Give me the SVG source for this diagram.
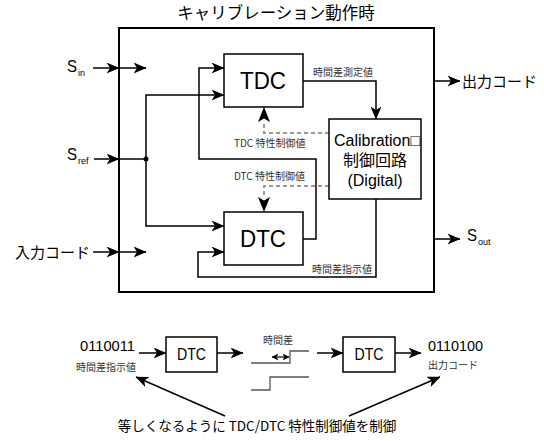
<svg xmlns="http://www.w3.org/2000/svg" width="544" height="441" viewBox="0 0 544 441">
<defs>
<marker id="arr" markerUnits="userSpaceOnUse" markerWidth="13" markerHeight="11" viewBox="0 0 13 11" refX="12.5" refY="5.5" orient="auto">
<path d="M0,0 L13,5.5 L0,11 L3.5,5.5 Z" fill="#000"/>
</marker>
<marker id="arrs" markerUnits="userSpaceOnUse" markerWidth="7" markerHeight="7" viewBox="0 0 7 7" refX="6.5" refY="3.5" orient="auto-start-reverse">
<path d="M0,0 L7,3.5 L0,7 L2,3.5 Z" fill="#000"/>
</marker>
</defs>
<style>
.box{fill:#fff;stroke:#000;stroke-width:1.5}
.ln{fill:none;stroke:#000;stroke-width:1.5}
.dash{fill:none;stroke:#999;stroke-width:2;stroke-dasharray:4 3}
.wave{fill:none;stroke:#555;stroke-width:1.3}
.jp{font-family:"Noto Sans CJK JP","Noto Sans",sans-serif;fill:#000}
.sm{font-family:"Noto Sans CJK JP","Noto Sans",sans-serif;font-size:10px;fill:#333}
.big{font-family:"Liberation Sans",Arial,sans-serif;fill:#000}
</style>
<rect width="544" height="441" fill="#fff"/>

<g id="frame">
<rect x="119" y="28" width="315" height="264" fill="none" stroke="#000" stroke-width="2"/>
<text class="jp" x="276" y="19" font-size="16.5" text-anchor="middle">キャリブレーション動作時</text>
</g>

<g id="connectors">
<line class="ln" x1="93" y1="68" x2="119" y2="68" marker-end="url(#arr)"/>
<line class="ln" x1="119" y1="68" x2="146" y2="68" marker-end="url(#arr)"/>
<line class="ln" x1="94" y1="159" x2="119" y2="159" marker-end="url(#arr)"/>
<line class="ln" x1="119" y1="159" x2="146" y2="159"/>
<line class="ln" x1="93" y1="252" x2="119" y2="252" marker-end="url(#arr)"/>
<line class="ln" x1="119" y1="252" x2="146" y2="252" marker-end="url(#arr)"/>
<polyline class="ln" points="146,159 146,95 224,95" marker-end="url(#arr)"/>
<polyline class="ln" points="146,159 146,226 224,226" marker-end="url(#arr)"/>
<circle cx="146" cy="159" r="2.5" fill="#000"/>
<polyline class="ln" points="303,239 316,239 316,159 199,159 199,68 224,68" marker-end="url(#arr)"/>
<polyline class="ln" points="303,81 376,81 376,119" marker-end="url(#arr)"/>
<polyline class="ln" points="376,199 376,277 198,277 198,252 224,252" marker-end="url(#arr)"/>
<polyline class="dash" points="329,133 264,133 264,124"/>
<path d="M264,107 L270,122 L264,118.5 L258,122 Z" fill="#000"/>
<polyline class="dash" points="329,186 264,186 264,195"/>
<path d="M264,212 L270,197 L264,200.5 L258,197 Z" fill="#000"/>
<line class="ln" x1="434" y1="81" x2="460" y2="81" marker-end="url(#arr)"/>
<line class="ln" x1="434" y1="239" x2="460" y2="239" marker-end="url(#arr)"/>
<line class="ln" x1="139" y1="353" x2="166" y2="353" marker-end="url(#arr)"/>
<line class="ln" x1="217" y1="353" x2="243" y2="353" marker-end="url(#arr)"/>
<line class="ln" x1="317" y1="353" x2="343" y2="353" marker-end="url(#arr)"/>
<line class="ln" x1="395" y1="353" x2="421" y2="353" marker-end="url(#arr)"/>
<line class="ln" x1="225" y1="416" x2="136" y2="377" marker-end="url(#arr)"/>
<line class="ln" x1="349" y1="416" x2="440" y2="377" marker-end="url(#arr)"/>
</g>

<g id="sin">
<text class="big" x="67" y="72" font-size="17" textLength="10" lengthAdjust="spacingAndGlyphs">S</text>
<text class="big" x="78" y="76" font-size="9">in</text>
</g>
<g id="sref">
<text class="big" x="67" y="160" font-size="17" textLength="10" lengthAdjust="spacingAndGlyphs">S</text>
<text class="big" x="78" y="164" font-size="9">ref</text>
</g>
<g id="input-code">
<text class="jp" x="15" y="258" font-size="15">入力コード</text>
</g>
<g id="output-code">
<text class="jp" x="462" y="87" font-size="15">出力コード</text>
</g>
<g id="sout">
<text class="big" x="467" y="241" font-size="17" textLength="10" lengthAdjust="spacingAndGlyphs">S</text>
<text class="big" x="478" y="245" font-size="9">out</text>
</g>

<g id="tdc">
<rect class="box" x="224" y="54" width="79" height="53"/>
<text class="big" x="240" y="89" font-size="23.5" textLength="46" lengthAdjust="spacingAndGlyphs">TDC</text>
</g>
<g id="dtc">
<rect class="box" x="224" y="212" width="79" height="53"/>
<text class="big" x="240" y="247" font-size="23.5" textLength="46" lengthAdjust="spacingAndGlyphs">DTC</text>
</g>
<g id="calibration">
<rect class="box" x="329" y="119" width="92" height="80"/>
<text class="big" x="377" y="146" font-size="16" text-anchor="middle">Calibration□</text>
<text class="jp" x="375" y="166" font-size="16" text-anchor="middle">制御回路</text>
<text class="big" x="375" y="186" font-size="16" text-anchor="middle">(Digital)</text>
</g>

<g id="labels">
<text class="sm" x="313" y="76">時間差測定値</text>
<text class="sm" x="234" y="147">TDC 特性制御値</text>
<text class="sm" x="234" y="180">DTC 特性制御値</text>
<text class="sm" x="312" y="273">時間差指示値</text>
</g>

<g id="code-in">
<text class="big" x="80" y="351" font-size="15" textLength="55" lengthAdjust="spacingAndGlyphs">0110011</text>
<text class="sm" x="76" y="371">時間差指示値</text>
</g>
<g id="dtc-b1">
<rect class="box" x="166" y="337" width="51" height="35"/>
<text class="big" x="177" y="360" font-size="16" textLength="29" lengthAdjust="spacingAndGlyphs">DTC</text>
</g>
<g id="waveform">
<text class="sm" x="263" y="344" font-size="9.5">時間差</text>
<polyline class="wave" points="251,363 290,363 290,351 309,351"/>
<polyline class="wave" points="251,390 270,390 270,377 309,377"/>
<line x1="272" y1="357" x2="289" y2="357" stroke="#000" stroke-width="1.2" marker-start="url(#arrs)" marker-end="url(#arrs)"/>
</g>
<g id="dtc-b2">
<rect class="box" x="343" y="337" width="52" height="35"/>
<text class="big" x="354.5" y="360" font-size="16" textLength="29" lengthAdjust="spacingAndGlyphs">DTC</text>
</g>
<g id="code-out">
<text class="big" x="428" y="351" font-size="15" textLength="55" lengthAdjust="spacingAndGlyphs">0110100</text>
<text class="sm" x="428" y="369">出力コード</text>
</g>
<g id="note">
<text class="jp" x="257" y="431" font-size="13.5" text-anchor="middle">等しくなるように TDC/DTC 特性制御値を制御</text>
</g>
</svg>
